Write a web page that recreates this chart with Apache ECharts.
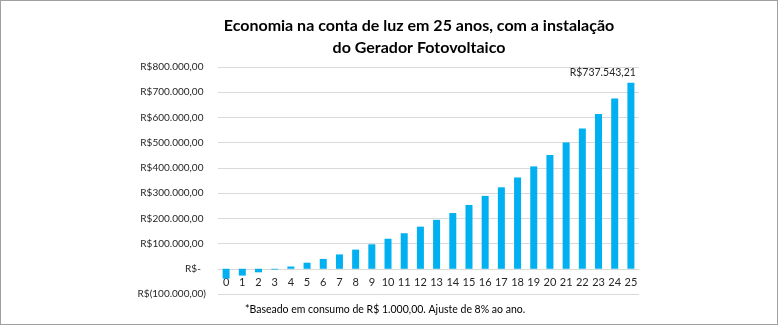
<!DOCTYPE html>
<html>
<head>
<meta charset="utf-8">
<script src="https://cdn.jsdelivr.net/npm/echarts@6/dist/echarts.min.js"></script>
<style>
html,body{margin:0;padding:0;background:#fff;}
#wrap{position:absolute;left:0;top:0;width:776px;height:323px;border:1px solid #a0a0a0;}
#c{width:776px;height:323px;}
</style>
</head>
<body>
<div id="wrap"><div id="c"></div></div>
<script>
var titleText = 'Economia na conta de luz em 25 anos, com a instalação\ndo Gerador Fotovoltaico';
var footnote = '*Baseado em consumo de R$ 1.000,00. Ajuste de 8% ao ano.';
var years = ['0','1','2','3','4','5','6','7','8','9','10','11','12','13','14','15','16','17','18','19','20','21','22','23','24','25'];
var economia = [-39000,-27000,-14000,-3000,9000,24000,39000,57000,76000,97000,119000,141000,167000,194000,221000,253000,289000,323000,362000,406000,451000,501000,556000,614000,675000,737543.21];
var labelIndex = 25;

function fmtNum(v){
  var s = Math.abs(v).toFixed(2).split('.');
  var i = s[0].replace(/\B(?=(\d{3})+(?!\d))/g, '.');
  return i + ',' + s[1];
}
function fmtAxis(v){
  if (v === 0) return 'R$-  ';
  if (v < 0) return 'R$(' + fmtNum(v) + ')';
  return 'R$' + fmtNum(v) + ' ';
}
var FONT = 'Lato';
var chart = echarts.init(document.getElementById('c'), null, {renderer:'canvas'});
chart.setOption({
  animation:false,
  backgroundColor:'#fff',
  title:{
    text:titleText, left:413, top:9, textAlign:'center',
    textStyle:{fontFamily:FONT, fontSize:16, fontWeight:'bold', color:'#000', lineHeight:22}
  },
  graphic:[{
    type:'text', x:244, y:303,
    style:{text:footnote, fontFamily:FONT, fontSize:10.5, fill:'#000'}
  }],
  grid:{left:217, right:138, top:66, bottom:30},
  xAxis:{
    type:'category', data:years,
    axisLine:{onZero:false, lineStyle:{color:'#d9d9d9', width:1}},
    axisTick:{show:false},
    axisLabel:{fontFamily:FONT, fontSize:11, color:'#262626', margin:8, interval:0}
  },
  yAxis:{
    type:'value', min:-100000, max:800000, interval:100000,
    axisLine:{show:false}, axisTick:{show:false},
    splitLine:{lineStyle:{color:'#d9d9d9', width:1}},
    axisLabel:{fontFamily:FONT, fontSize:10, color:'#262626', margin:12, formatter:fmtAxis}
  },
  series:[{
    type:'bar', data:economia.map(function(v,i){
      return i===labelIndex ? {value:v, label:{show:true}} : v;
    }),
    barWidth:7,
    itemStyle:{color:'#00b0f0'},
    label:{show:false, position:'top', align:'right', offset:[5,-1], distance:4,
      fontFamily:FONT, fontSize:10.5, color:'#262626',
      formatter:function(p){return 'R$' + fmtNum(p.value);}}
  }]
});
var y0 = chart.convertToPixel({yAxisIndex:0}, 0);
var yMin = chart.convertToPixel({yAxisIndex:0}, -100000);
chart.setOption({xAxis:{offset:-(yMin - y0)}});
</script>
</body>
</html>
